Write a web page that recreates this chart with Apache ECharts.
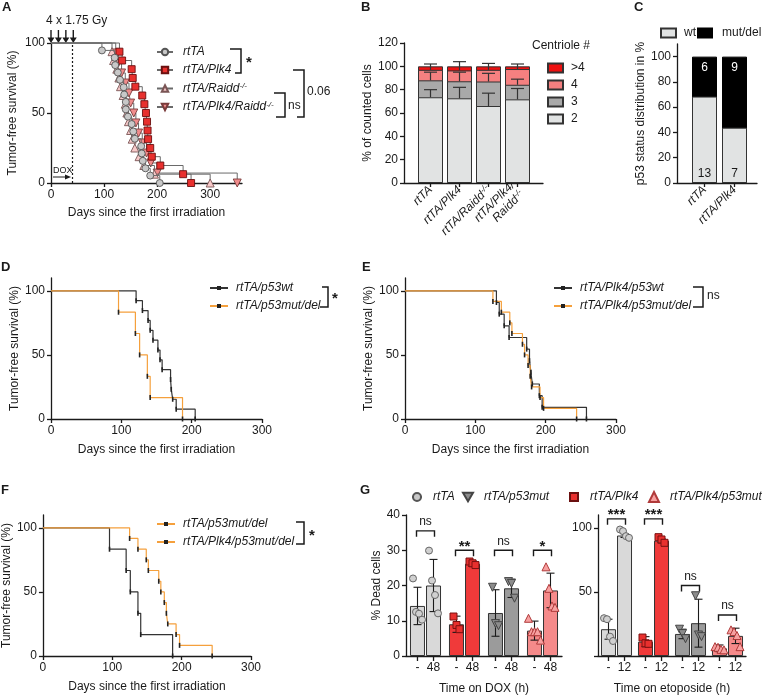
<!DOCTYPE html>
<html>
<head>
<meta charset="utf-8">
<script src="https://cdn.jsdelivr.net/npm/echarts@6/dist/echarts.min.js"></script>
<style>
  html, body { margin: 0; padding: 0; background: #fff; }
  #chart { width: 762px; height: 697px; }
</style>
</head>
<body>
<div id="chart"></div>
<script>
const FONT = '"Liberation Sans", Arial, sans-serif';
const INK = '#1a1a1a';

// ---- A: tumor-free survival (event day, survival after the event)
const rtTADays  = [96, 120, 121, 126, 130, 137, 138, 141, 141, 145, 152, 155, 158, 170, 171, 173, 178, 187, 205];
const rtTASurv  = [94.7, 89.5, 84.2, 78.9, 73.7, 68.4, 63.2, 57.9, 52.6, 47.4, 42.1, 36.8, 31.6, 26.3, 21.1, 15.8, 10.5, 5.3, 0];
const plk4Days  = [129, 134, 152, 154, 159, 172, 176, 179, 181, 182, 183, 187, 190, 206, 249, 264];
const plk4Surv  = [93.8, 87.5, 81.3, 75, 68.8, 62.5, 56.3, 50, 43.8, 37.5, 31.3, 25, 18.8, 12.5, 6.3, 0];
const raiddDays = [115, 118, 124, 128, 131, 136, 140, 143, 146, 150, 153, 158, 166, 175, 195, 300];
const raiddSurv = [93.8, 87.5, 81.3, 75, 68.8, 62.5, 56.3, 50, 43.8, 37.5, 31.3, 25, 18.8, 12.5, 6.3, 0];
const plk4RaiddDays = [122, 127, 133, 140, 147, 150, 156, 160, 165, 172, 180, 188, 200, 351];
const plk4RaiddSurv = [92.9, 85.7, 78.6, 71.4, 64.3, 57.1, 50, 42.9, 35.7, 28.6, 21.4, 14.3, 7.1, 0];
const irradiationDays = [0, 14, 28, 42];
const doxStartDay = 40;

// ---- B: centriole number per cell (%)
const bCategories    = ['rtTA', 'rtTA/Plk4', 'rtTA/Raidd-/-', 'rtTA/Plk4/\nRaidd-/-'];
const centrioleTwo   = [73.5, 72.6, 66, 71.7];
const centrioleThree = [14.5, 14.6, 21, 12.5];
const centrioleFour  = [9, 9.3, 10, 13.5];
const centrioleMore  = [3, 3.5, 3, 2.3];
const sdTwo   = [6.5, 9.4, 11, 9.3];
const sdThree = [7, 7.8, 7, 4.8];
const sdFour  = [5, 7.5, 5.5, 4.3];

// ---- C: p53 status
const cCategories = ['rtTA', 'rtTA/Plk4'];
const wtCounts   = [13, 7];
const mutCounts  = [6, 9];
const wtPercent  = [68.4, 43.8];
const mutPercent = [31.6, 56.2];

// ---- D / E / F: survival split by p53 status
const p53wtDays = [121, 130, 138, 141, 145, 152, 155, 158, 170, 171, 173, 178, 205];
const p53wtSurv = [92.3, 84.6, 76.9, 69.2, 61.5, 53.8, 46.2, 38.5, 30.8, 23.1, 15.4, 7.7, 0];
const p53mutDays = [96, 120, 126, 137, 141, 187];
const p53mutSurv = [83.3, 66.7, 50, 33.3, 16.7, 0];
const plk4p53wtDays = [130, 134, 141, 148, 173, 177, 179, 181, 191, 195, 258];
const plk4p53wtSurv = [90.9, 81.8, 72.7, 63.6, 54.5, 45.5, 36.4, 27.3, 18.2, 9.1, 0];
const plk4p53mutDays = [125, 137, 149, 152, 167, 170, 175, 178, 180, 192, 197, 244];
const plk4p53mutSurv = [91.7, 83.3, 75, 66.7, 58.3, 50, 41.7, 33.3, 25, 16.7, 8.3, 0];

// ---- G: % dead cells
const gGenotypes = ['rtTA', 'rtTA/Plk4', 'rtTA/p53mut', 'rtTA/Plk4/p53mut'];
const doxTimes = ['-', '48'];
const doxMeanNone = [14.2, 9.0, 12.2, 7.2];
const doxSdNone   = [5.3, 2.3, 6.6, 2.7];
const doxMean48   = [20.0, 26.2, 19.2, 18.6];
const doxSd48     = [7.4, 0.8, 2.6, 4.9];
const doxPointsNone = [[22.0, 12.5, 12.0, 10.3], [11.2, 8.8, 7.6], [19.5, 9.2, 8.6], [10.7, 6.9, 6.9, 6.9, 4.5]];
const doxPoints48   = [[29.9, 21.4, 17.3, 12.1], [26.8, 26.3, 25.8], [21.1, 20.6, 16.4], [25.3, 19.2, 14.2, 13.8]];
const doxSignif   = ['ns', '**', 'ns', '*'];
const doxSignifAt = [35.5, 30, 30, 30];

const etoTimes = ['-', '12'];
const etoMeanNone = [20.9, 11.2, 17.2, 6.0];
const etoSdNone   = [7.8, 3.9, 3.7, 2.6];
const etoMean12   = [94.0, 90.0, 25.6, 15.7];
const etoSd12     = [1.5, 1.7, 18.7, 6.0];
const etoPointsNone = [[29.5, 28.7, 15.1, 11.7], [14.4, 9.9, 9.5], [20.9, 17.5, 13.5], [7.3, 6.8, 5.2, 4.8]];
const etoPoints12   = [[98.7, 97.4, 93.5, 92.2], [92.7, 90.9, 88.3], [47.0, 16.4, 15.1], [20.4, 19.1, 16.0, 7.3]];
const etoSignif   = ['***', '***', 'ns', 'ns'];
const etoSignifAt = [107, 107, 55, 32];

// ---------------------------------------------------------------
const chart = echarts.init(document.getElementById('chart'));

const DOWN_TRI = 'path://M0,0 L10,0 L5,8.7 Z';
const sup = { fontSize: 8, verticalAlign: 'top', padding: [0, 0, 5, 0], fontStyle: 'italic', color: INK };
const withSup = s => s.replace('-/-', '{sup|-/-}');

function km(days, surv) {
  return [{ value: [0, 100], symbol: 'none' }].concat(days.map((d, i) => [d, surv[i]]));
}

function axis(type, grid, extra) {
  const base = {
    type: type, gridIndex: grid,
    axisLine: { show: true, onZero: false, lineStyle: { color: INK, width: 1.3 } },
    axisTick: { show: true, length: 4, lineStyle: { color: INK, width: 1.3 } },
    axisLabel: { color: INK, fontSize: 12, margin: 6, fontFamily: FONT },
    splitLine: { show: false },
    nameLocation: 'middle',
    nameTextStyle: { color: INK, fontSize: 12, fontFamily: FONT }
  };
  const out = Object.assign({}, base, extra);
  ['axisLine', 'axisTick', 'axisLabel', 'nameTextStyle'].forEach(k => {
    if (extra[k]) out[k] = Object.assign({}, base[k], extra[k]);
  });
  return out;
}

const grids = [
  { left: 51,  top: 43,  width: 191, height: 140 },  // A
  { left: 404, top: 43,  width: 139, height: 140 },  // B
  { left: 677, top: 44,  width: 80,  height: 139 },  // C
  { left: 51,  top: 278, width: 211, height: 141 },  // D
  { left: 405, top: 278, width: 211, height: 141 },  // E
  { left: 39,  top: 515, width: 212, height: 141 },  // F
  { left: 406, top: 515, width: 156, height: 141 },  // G left
  { left: 598, top: 515, width: 148, height: 141 }   // G right
];

const daysName = 'Days since the first irradiation';
const survName = 'Tumor-free survival (%)';

const xAxes = [
  axis('value', 0, { min: 0, max: 360, name: daysName, nameGap: 24,
    axisTick: { customValues: [0, 100, 200, 300] }, axisLabel: { customValues: [0, 100, 200, 300] } }),
  axis('value', 1, { min: -0.914, max: 3.879,
    axisTick: { customValues: [0, 1, 2, 3] },
    axisLabel: { customValues: [0, 1, 2, 3], rotate: 45, fontStyle: 'italic', margin: 5, lineHeight: 13,
      formatter: v => withSup(bCategories[Math.round(v)]), rich: { sup: sup } } }),
  axis('value', 2, { min: -0.917, max: 1.75,
    axisTick: { customValues: [0, 1] },
    axisLabel: { customValues: [0, 1], rotate: 45, fontStyle: 'italic', margin: 5,
      formatter: v => cCategories[Math.round(v)] } }),
  axis('value', 3, { min: 0, max: 300, interval: 100, name: daysName, nameGap: 25 }),
  axis('value', 4, { min: 0, max: 300, interval: 100, name: daysName, nameGap: 25 }),
  axis('value', 5, { min: 0, max: 300, interval: 100, name: daysName, nameGap: 25 }),
  axis('category', 6, { data: gGenotypes, axisTick: { show: false }, axisLabel: { show: false },
    name: 'Time on DOX (h)', nameGap: 27 }),
  axis('category', 7, { data: gGenotypes, axisTick: { show: false }, axisLabel: { show: false },
    name: 'Time on etoposide (h)', nameGap: 27 })
];

const yAxes = [
  axis('value', 0, { min: 0, max: 100, interval: 50, name: survName, nameGap: 32 }),
  axis('value', 1, { min: 0, max: 120, interval: 20, name: '% of counted cells', nameGap: 25 }),
  axis('value', 2, { min: 0, max: 110, name: 'p53 status distribution in %', nameGap: 23,
    axisTick: { customValues: [0, 20, 40, 60, 80, 100] }, axisLabel: { customValues: [0, 20, 40, 60, 80, 100] } }),
  axis('value', 3, { min: 0, max: 110, name: survName, nameGap: 30,
    axisTick: { customValues: [0, 50, 100] }, axisLabel: { customValues: [0, 50, 100] } }),
  axis('value', 4, { min: 0, max: 110, name: survName, nameGap: 29,
    axisTick: { customValues: [0, 50, 100] }, axisLabel: { customValues: [0, 50, 100] } }),
  axis('value', 5, { min: 0, max: 110, name: survName, nameGap: 29,
    axisTick: { customValues: [0, 50, 100] }, axisLabel: { customValues: [0, 50, 100] } }),
  axis('value', 6, { min: 0, max: 40, interval: 10, name: '% Dead cells', nameGap: 18 }),
  axis('value', 7, { min: 0, max: 110,
    axisTick: { customValues: [0, 50, 100] }, axisLabel: { customValues: [50, 100] } })
];

const series = [];

// ---- A
const aGroups = [
  { name: 'rtTA',               days: rtTADays,      surv: rtTASurv,      symbol: 'circle',   size: 7, fill: '#c8c8c8', stroke: '#555' },
  { name: 'rtTA/Plk4',          days: plk4Days,      surv: plk4Surv,      symbol: 'rect',     size: 7, fill: '#e8302e', stroke: '#6a1010' },
  { name: 'rtTA/Raidd-/-',      days: raiddDays,     surv: raiddSurv,     symbol: 'triangle', size: 8, fill: '#f7c9c9', stroke: '#7a5555' },
  { name: 'rtTA/Plk4/Raidd-/-', days: plk4RaiddDays, surv: plk4RaiddSurv, symbol: DOWN_TRI,   size: 8, fill: '#f08c8c', stroke: '#7a3b3b' }
];
aGroups.forEach((g, idx) => {
  const s = {
    type: 'line', name: g.name, xAxisIndex: 0, yAxisIndex: 0, step: 'end', clip: false,
    data: km(g.days, g.surv),
    symbol: g.symbol, symbolSize: g.size,
    lineStyle: { color: '#6a6a6a', width: 1 },
    itemStyle: { color: g.fill, borderColor: g.stroke, borderWidth: 0.9 },
    z: 3 + (3 - idx)
  };
  if (idx === 0) {
    s.markLine = {
      silent: true, symbol: ['none', 'none'], label: { show: false },
      lineStyle: { type: [2, 2], color: INK, width: 1.2 },
      data: [[{ coord: [doxStartDay, 0] }, { coord: [doxStartDay, 100] }]]
    };
    s.markPoint = {
      silent: true, label: { show: false },
      symbol: 'path://M2.4,0 L3.6,0 L3.6,8 L6,8 L3,14 L0,8 L2.4,8 Z',
      symbolSize: [7, 13], symbolOffset: [0, -6.5],
      itemStyle: { color: INK, borderWidth: 0 },
      data: irradiationDays.map(d => ({ coord: [d, 100] }))
    };
  }
  series.push(s);
});

// ---- B (segments drawn as overlapping cumulative bars, top segment first)
const cumThree = centrioleTwo.map((v, i) => v + centrioleThree[i]);
const cumFour  = cumThree.map((v, i) => v + centrioleFour[i]);
const cumMore  = cumFour.map((v, i) => v + centrioleMore[i]);
const bFill = { '2': '#e1e3e3', '3': '#a9a9a9', '4': '#f58080', '>4': '#ee1111' };
[['>4', cumMore], ['4', cumFour], ['3', cumThree], ['2', centrioleTwo]].forEach(([n, arr]) => {
  series.push({
    type: 'bar', name: n, xAxisIndex: 1, yAxisIndex: 1, barWidth: 25, barGap: '-100%',
    data: arr.map((v, i) => [i, v]),
    itemStyle: { color: bFill[n], borderColor: '#333', borderWidth: 1 }
  });
});
const bErrors = [];
centrioleTwo.forEach((v, i) => {
  bErrors.push([i, v, sdTwo[i]], [i, cumThree[i], sdThree[i]], [i, cumFour[i], sdFour[i]]);
});
series.push({
  type: 'custom', xAxisIndex: 1, yAxisIndex: 1, z: 5, silent: true,
  data: bErrors, encode: { x: 0, y: 1 },
  renderItem: (params, api) => {
    const base = api.coord([api.value(0), api.value(1)]);
    const tip = api.coord([api.value(0), api.value(1) + api.value(2)]);
    const st = { stroke: '#333', lineWidth: 1.2 };
    return { type: 'group', children: [
      { type: 'line', shape: { x1: base[0], y1: base[1], x2: base[0], y2: tip[1] }, style: st },
      { type: 'line', shape: { x1: base[0] - 6.5, y1: tip[1], x2: base[0] + 6.5, y2: tip[1] }, style: st }
    ] };
  }
});

// ---- C (mut/del bar sits on top of wt)
series.push({
  type: 'bar', name: 'mut/del', xAxisIndex: 2, yAxisIndex: 2, barWidth: 25, barGap: '-100%',
  data: mutPercent.map((v, i) => [i, v + wtPercent[i]]),
  itemStyle: { color: '#000', borderColor: '#000', borderWidth: 1 },
  label: { show: true, position: 'insideTop', distance: 5, color: '#fff', fontSize: 12,
    formatter: p => String(mutCounts[p.dataIndex]) }
});
series.push({
  type: 'bar', name: 'wt', xAxisIndex: 2, yAxisIndex: 2, barWidth: 25, barGap: '-100%',
  data: wtPercent.map((v, i) => [i, v]),
  itemStyle: { color: '#e1e3e3', borderColor: '#333', borderWidth: 1 },
  label: { show: true, position: 'insideBottom', distance: 3, color: INK, fontSize: 12,
    formatter: p => String(wtCounts[p.dataIndex]) }
});

// ---- D / E / F
function kmSeries(name, axisIdx, days, surv, color) {
  return {
    type: 'line', name: name, xAxisIndex: axisIdx, yAxisIndex: axisIdx, step: 'end', clip: false,
    data: km(days, surv), symbol: 'rect', symbolSize: [1.6, 5],
    lineStyle: { color: color, width: 1.2 }, itemStyle: { color: '#222' }
  };
}
const BLACK = '#333333', ORANGE = '#f5a03c';
series.push(kmSeries('rtTA/p53wt', 3, p53wtDays, p53wtSurv, BLACK));
series.push(kmSeries('rtTA/p53mut/del', 3, p53mutDays, p53mutSurv, ORANGE));
series.push(kmSeries('rtTA/Plk4/p53wt', 4, plk4p53wtDays, plk4p53wtSurv, BLACK));
series.push(kmSeries('rtTA/Plk4/p53mut/del', 4, plk4p53mutDays, plk4p53mutSurv, ORANGE));
series.push(kmSeries('rtTA/p53mut/del', 5, p53mutDays, p53mutSurv, BLACK));
series.push(kmSeries('rtTA/Plk4/p53mut/del', 5, plk4p53mutDays, plk4p53mutSurv, ORANGE));

// ---- G
const gFill = ['#d9d9d9', '#f03a3a', '#9b9b9b', '#f58a8a'];
const gMarker = {
  'rtTA':             { symbol: 'circle',   size: 7, fill: '#d0d0d0', stroke: '#666' },
  'rtTA/Plk4':        { symbol: 'rect',     size: 7, fill: '#e8302e', stroke: '#7a1010' },
  'rtTA/p53mut':      { symbol: DOWN_TRI,   size: 8, fill: '#8c8c8c', stroke: '#444' },
  'rtTA/Plk4/p53mut': { symbol: 'triangle', size: 8, fill: '#f7a0a0', stroke: '#b03a3a' }
};
const SHIFT = 8;

function errRender(shift) {
  return (params, api) => {
    const i = api.value(0), m = api.value(1), s = api.value(2);
    const hi = api.coord([i, m + s]), lo = api.coord([i, Math.max(m - s, 0)]);
    const x = hi[0] + shift;
    const st = { stroke: INK, lineWidth: 1.1 };
    return { type: 'group', children: [
      { type: 'line', shape: { x1: x, y1: hi[1], x2: x, y2: lo[1] }, style: st },
      { type: 'line', shape: { x1: x - 4, y1: hi[1], x2: x + 4, y2: hi[1] }, style: st },
      { type: 'line', shape: { x1: x - 4, y1: lo[1], x2: x + 4, y2: lo[1] }, style: st }
    ] };
  };
}

function gPanel(ax, times, meanA, sdA, meanB, sdB, ptsA, ptsB, signif, signifAt) {
  [[meanA, times[0]], [meanB, times[1]]].forEach(([means, label]) => {
    series.push({
      type: 'bar', xAxisIndex: ax, yAxisIndex: ax, barWidth: 15, barGap: '7%',
      data: means.map((v, i) => ({ value: v, itemStyle: { color: gFill[i] } })),
      itemStyle: { borderColor: '#333', borderWidth: 1 },
      label: { show: true, position: 'bottom', distance: 0, color: INK, fontSize: 12, lineHeight: 14,
        formatter: '{t|}\n' + label,
        rich: { t: { width: 1.3, height: 5, lineHeight: 5, backgroundColor: INK } } }
    });
  });
  [[meanA, sdA, -SHIFT], [meanB, sdB, SHIFT]].forEach(([means, sds, shift]) => {
    series.push({
      type: 'custom', xAxisIndex: ax, yAxisIndex: ax, z: 4, silent: true,
      data: means.map((v, i) => [i, v, sds[i]]), encode: { x: 0, y: 1 },
      renderItem: errRender(shift)
    });
  });
  gGenotypes.forEach((g, gi) => {
    const mk = gMarker[g];
    const data = [];
    [[ptsA[gi], -SHIFT], [ptsB[gi], SHIFT]].forEach(([pts, shift]) => {
      pts.forEach((v, k) => data.push({ value: [gi, v], symbolOffset: [shift + (k - (pts.length - 1) / 2) * 3, 0] }));
    });
    series.push({
      type: 'scatter', name: g, xAxisIndex: ax, yAxisIndex: ax, z: 5,
      symbol: mk.symbol, symbolSize: mk.size,
      itemStyle: { color: mk.fill, borderColor: mk.stroke, borderWidth: 1, opacity: 1 },
      data: data
    });
  });
  series.push({
    type: 'custom', xAxisIndex: ax, yAxisIndex: ax, z: 6, silent: true,
    data: signifAt.map((h, i) => [i, h]), encode: { x: 0, y: 1 },
    renderItem: (params, api) => {
      const c = api.coord([api.value(0), api.value(1)]);
      const l = c[0] - SHIFT - 1, r = c[0] + SHIFT + 1;
      const txt = signif[params.dataIndex];
      const star = txt.indexOf('*') >= 0;
      return { type: 'group', children: [
        { type: 'polyline', shape: { points: [[l, c[1] + 6], [l, c[1]], [r, c[1]], [r, c[1] + 6]] },
          style: { stroke: INK, lineWidth: 1.4, fill: null } },
        { type: 'text', style: { text: txt, x: c[0], y: star ? c[1] + 4 : c[1] - 3,
          align: 'center', verticalAlign: 'bottom',
          font: (star ? 'bold 15px ' : '12px ') + FONT, fill: INK } }
      ] };
    }
  });
}
gPanel(6, doxTimes, doxMeanNone, doxSdNone, doxMean48, doxSd48, doxPointsNone, doxPoints48, doxSignif, doxSignifAt);
gPanel(7, etoTimes, etoMeanNone, etoSdNone, etoMean12, etoSd12, etoPointsNone, etoPoints12, etoSignif, etoSignifAt);

// ---- legends
const legText = { color: INK, fontSize: 12, fontStyle: 'italic', fontFamily: FONT };
const plainText = { color: INK, fontSize: 12, fontFamily: FONT, padding: [0, 0, 0, 3] };
const legends = [
  { data: aGroups.map(g => g.name), orient: 'vertical', left: 156, top: 46, itemWidth: 16, itemHeight: 8, itemGap: 6,
    formatter: withSup, textStyle: Object.assign({}, legText, { padding: [0, 0, 0, 5], rich: { sup: sup } }) },
  { data: ['>4', '4', '3', '2'], icon: 'rect', orient: 'vertical', left: 547, top: 62, itemWidth: 15, itemHeight: 9, itemGap: 5,
    textStyle: plainText },
  { data: ['wt'], icon: 'rect', left: 660, top: 27, itemWidth: 15, itemHeight: 9, textStyle: plainText },
  { data: ['mut/del'], icon: 'rect', left: 697, top: 27, itemWidth: 14, itemHeight: 9,
    textStyle: Object.assign({}, plainText, { padding: [0, 0, 0, 5] }) },
  { data: ['rtTA/p53wt', 'rtTA/p53mut/del'], orient: 'vertical', left: 209, top: 282, itemWidth: 18, itemHeight: 5, itemGap: 6,
    textStyle: Object.assign({}, legText, { padding: [0, 0, 0, 3] }) },
  { data: ['rtTA/Plk4/p53wt', 'rtTA/Plk4/p53mut/del'], orient: 'vertical', left: 553, top: 282, itemWidth: 18, itemHeight: 5, itemGap: 6,
    textStyle: Object.assign({}, legText, { padding: [0, 0, 0, 3] }) },
  { data: ['rtTA/p53mut/del', 'rtTA/Plk4/p53mut/del'], orient: 'vertical', left: 156, top: 518, itemWidth: 18, itemHeight: 5, itemGap: 6,
    textStyle: Object.assign({}, legText, { padding: [0, 0, 0, 3] }) },
  { data: ['rtTA'], left: 411, top: 491, itemWidth: 10, itemHeight: 10, textStyle: Object.assign({}, legText, { padding: [0, 0, 0, 6] }) },
  { data: ['rtTA/p53mut'], left: 462, top: 491, itemWidth: 10, itemHeight: 10, textStyle: Object.assign({}, legText, { padding: [0, 0, 0, 6] }) },
  { data: ['rtTA/Plk4'], left: 568, top: 491, itemWidth: 10, itemHeight: 10, textStyle: Object.assign({}, legText, { padding: [0, 0, 0, 6] }) },
  { data: ['rtTA/Plk4/p53mut'], left: 648, top: 491, itemWidth: 10, itemHeight: 10, textStyle: Object.assign({}, legText, { padding: [0, 0, 0, 6] }) }
];
legends.forEach(l => { l.selectedMode = false; l.padding = 0; });

// ---- annotations
const lineStyle = { stroke: INK, lineWidth: 1.5, fill: null };
function bracket(points) { return { type: 'polyline', shape: { points: points }, style: lineStyle }; }
function txt(text, left, top, font) {
  return { type: 'text', left: left, top: top, style: { text: text, font: font || ('12px ' + FONT), fill: INK } };
}
const graphics = [
  txt('A', 2, 1, 'bold 13px ' + FONT), txt('B', 361, 1, 'bold 13px ' + FONT), txt('C', 634, 1, 'bold 13px ' + FONT),
  txt('D', 1, 261, 'bold 13px ' + FONT), txt('E', 362, 261, 'bold 13px ' + FONT),
  txt('F', 1, 484, 'bold 13px ' + FONT), txt('G', 360, 484, 'bold 13px ' + FONT),
  txt('4 x 1.75 Gy', 46, 15),
  txt('DOX', 53, 166, '9px ' + FONT),
  { type: 'line', shape: { x1: 53, y1: 177, x2: 66, y2: 177 }, style: { stroke: INK, lineWidth: 1 } },
  { type: 'polygon', shape: { points: [[65, 174.5], [71, 177], [65, 179.5]] }, style: { fill: INK } },
  txt('Centriole #', 532, 40),
  // A legend brackets
  bracket([[230, 49], [241, 49], [241, 73], [235, 73]]),
  txt('*', 246, 55, 'bold 15px ' + FONT),
  bracket([[274, 93], [285, 93], [285, 117], [276, 117]]),
  txt('ns', 288, 100),
  bracket([[293, 70], [304, 70], [304, 117], [297, 117]]),
  txt('0.06', 307, 86),
  // D, E, F legend brackets
  bracket([[322, 287], [328, 287], [328, 307], [320, 307]]),
  txt('*', 332, 291, 'bold 15px ' + FONT),
  bracket([[693, 287], [703, 287], [703, 307], [693, 307]]),
  txt('ns', 707, 290),
  bracket([[296, 522], [304, 522], [304, 544], [296, 544]]),
  txt('*', 309, 528, 'bold 15px ' + FONT)
];

chart.setOption({
  animation: false,
  textStyle: { fontFamily: FONT },
  grid: grids,
  xAxis: xAxes,
  yAxis: yAxes,
  legend: legends,
  series: series,
  graphic: graphics
});
</script>
</body>
</html>
